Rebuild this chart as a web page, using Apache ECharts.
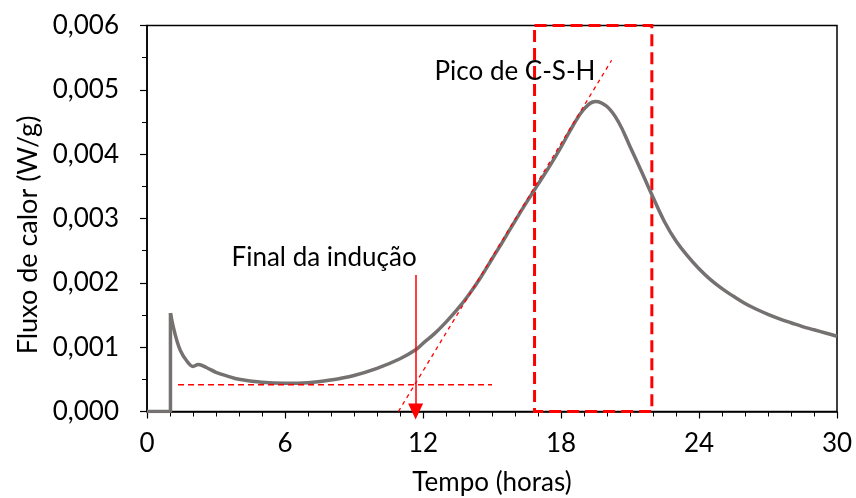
<!DOCTYPE html>
<html>
<head>
<meta charset="utf-8">
<script src="https://cdn.jsdelivr.net/npm/echarts@6/dist/echarts.min.js"></script>
<style>
  html, body { margin: 0; padding: 0; background: #fff; }
  #chart { width: 856px; height: 498px; }
</style>
</head>
<body>
<div id="chart"></div>
<script>
// Heat flow curve (time in hours, heat flow in W/g)
const timeH = [0, 1.02,
  1.02, 1.14, 1.3, 1.45, 1.7, 2.0, 2.23, 2.6, 3.0, 3.5, 4.0, 5.0, 6.0, 7.0, 8.0, 9.0,
  10.0, 11.0, 11.68, 12.0, 12.5, 13.0, 13.5, 14.0, 14.5, 15.0, 15.5, 16.0, 16.5, 17.0,
  17.5, 18.0, 18.5, 19.0, 19.5, 20.0, 20.5, 21.0, 21.5, 22.0, 22.5, 23.0, 23.5, 24.0,
  24.5, 25.0, 25.5, 26.0, 26.5, 27.0, 27.5, 28.0, 28.5, 29.0, 29.5, 30.0];
const heatFlow = [0, 0,
  0.00153, 0.00132, 0.00110, 0.00095, 0.00080, 0.00070, 0.00073, 0.00068, 0.00061, 0.00055, 0.00050, 0.000455, 0.00044, 0.000448, 0.00049, 0.00056,
  0.00067, 0.00082, 0.00096, 0.00106, 0.00121, 0.00139, 0.00159, 0.00182, 0.00208, 0.00237, 0.00266, 0.00296, 0.00325, 0.00353,
  0.00381, 0.00411, 0.00443, 0.00470, 0.00482, 0.00474, 0.00450, 0.00412, 0.00373, 0.00333, 0.00295, 0.00265, 0.00242, 0.00222,
  0.00205, 0.00191, 0.00179, 0.00168, 0.00159, 0.00151, 0.00144, 0.00138, 0.00132, 0.00127, 0.00122, 0.00117];

// Axis ticks
const xTicks = [0, 6, 12, 18, 24, 30];
const yTicks = [0, 0.001, 0.002, 0.003, 0.004, 0.005, 0.006];

// Annotation values
const inductionLevelT = [1.35, 15.0];
const inductionLevelV = [0.000415, 0.000415];
const tangentT = [10.93, 20.2];
const tangentV = [0, 0.00546];
const arrowT = [11.68, 11.68];
const arrowV = [0.00212, 0];
const peakWindowT = [16.85, 21.95];
const labelInduction = { text: 'Final da indução', t: 7.7, v: 0.00239 };
const labelPeak = { text: 'Pico de C-S-H', t: 16.0, v: 0.00528 };

const pairs = (xs, ys) => xs.map((x, i) => [x, ys[i]]);
const FONT = 'Lato, "Liberation Sans", sans-serif';
const FS = 26;
const GRAY = '#767171';
const RED = '#ff0000';

// Split the flat pre-contact baseline from the smooth hydration curve
const baselinePart = pairs(timeH.slice(0, 3), heatFlow.slice(0, 3));
const curvePart = pairs(timeH.slice(2), heatFlow.slice(2));

const chart = echarts.init(document.getElementById('chart'), null, { renderer: 'canvas' });

chart.setOption({
  animation: false,
  backgroundColor: '#fff',
  grid: {
    left: 147, right: 19, top: 25.5, bottom: 86.5, outerBoundsMode: 'none', containLabel: false,
    show: true, borderColor: '#000', borderWidth: 1.5, backgroundColor: 'transparent'
  },
  xAxis: {
    type: 'value', min: xTicks[0], max: xTicks[xTicks.length - 1], interval: 6,
    name: 'Tempo (horas)', nameLocation: 'middle', nameGap: 58,
    nameTextStyle: { fontFamily: FONT, fontSize: FS, color: '#000' },
    axisLine: { lineStyle: { color: '#000', width: 1.5 } },
    axisTick: { show: true, inside: false, length: 7, lineStyle: { color: '#000', width: 1.2 } },
    minorTick: { show: true, splitNumber: 6, length: 5, lineStyle: { color: '#000', width: 1 } },
    splitLine: { show: false },
    axisLabel: { fontFamily: FONT, fontSize: FS, color: '#000', margin: 19 }
  },
  yAxis: {
    type: 'value', min: yTicks[0], max: yTicks[yTicks.length - 1], interval: 0.001,
    axisLine: { show: true, lineStyle: { color: '#000', width: 1.5 } },
    axisTick: { show: true, inside: false, length: 7, lineStyle: { color: '#000', width: 1.2 } },
    minorTick: { show: true, splitNumber: 2, length: 5, lineStyle: { color: '#000', width: 1 } },
    splitLine: { show: false },
    axisLabel: {
      fontFamily: FONT, fontSize: FS, color: '#000', margin: 28,
      formatter: v => v.toFixed(3).replace('.', ',')
    }
  },
  graphic: [{
    type: 'text', x: 28, y: 235, rotation: Math.PI / 2,
    style: { text: 'Fluxo de calor (W/g)', font: '27px ' + FONT, fill: '#000', textAlign: 'center', textVerticalAlign: 'middle' }
  }],
  series: [
    {
      name: 'baseline', type: 'line', data: baselinePart, showSymbol: false, smooth: false,
      lineStyle: { color: GRAY, width: 3.5 }, z: 2
    },
    {
      name: 'heat flow', type: 'line', data: curvePart, showSymbol: false, smooth: 0.4,
      lineStyle: { color: GRAY, width: 3.5 }, z: 2,
      markArea: {
        silent: true,
        itemStyle: { color: 'transparent', borderColor: RED, borderWidth: 3, borderType: [12, 6] },
        data: [[{ xAxis: peakWindowT[0], yAxis: yTicks[yTicks.length - 1] }, { xAxis: peakWindowT[1], yAxis: yTicks[0] }]]
      },
      markPoint: {
        symbol: 'circle', symbolSize: 0, silent: true,
        label: { show: true, position: 'inside', fontFamily: FONT, fontSize: FS, color: '#000' },
        data: [labelInduction, labelPeak].map(l => ({
          coord: [l.t, l.v], value: l.text, label: { formatter: l.text }
        }))
      }
    },
    {
      name: 'induction level', type: 'line', data: pairs(inductionLevelT, inductionLevelV), showSymbol: false,
      lineStyle: { color: RED, width: 1.5, type: [6, 4] }, z: 4
    },
    {
      name: 'tangent', type: 'line', data: pairs(tangentT, tangentV), showSymbol: false,
      lineStyle: { color: RED, width: 1.3, type: [4, 4] }, z: 4
    },
    {
      name: 'arrow', type: 'line', data: [], z: 4,
      markLine: {
        silent: true, animation: false,
        symbol: ['none', 'triangle'], symbolSize: [15, 16],
        lineStyle: { color: RED, width: 1.5, type: 'solid' },
        label: { show: false },
        data: [[{ coord: [arrowT[0], arrowV[0]] }, { coord: [arrowT[1], arrowV[1]] }]]
      }
    }
  ]
});
</script>
</body>
</html>
